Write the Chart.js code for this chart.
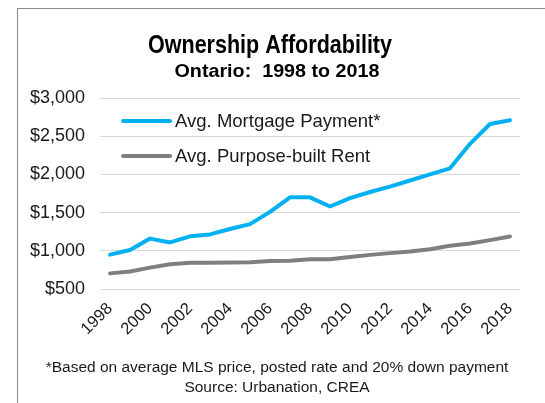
<!DOCTYPE html>
<html>
<head>
<meta charset="utf-8">
<script src="https://cdn.jsdelivr.net/npm/chart.js@4.4.1/dist/chart.umd.min.js"></script>
<style>
    html, body { margin: 0; padding: 0; background: #fff; }
    #wrap { position: relative; width: 545px; height: 403px; overflow: hidden; }
    #frame {
        position: absolute; left: 17px; top: 8px; width: 600px; height: 500px;
        border-left: 1px solid #8c8c8c; border-top: 1px solid #8c8c8c;
    }
    #chartBox { position: absolute; left: 0; top: 0; width: 545px; height: 403px; }
</style>
</head>
<body>
<div id="wrap">
    <div id="frame"></div>
    <div id="chartBox"><canvas id="affordChart"></canvas></div>
</div>
<script>
// ============================================================
// Ownership Affordability - Ontario 1998 to 2018
// ============================================================

const years = ['1998', '1999', '2000', '2001', '2002', '2003', '2004', '2005', '2006', '2007',
               '2008', '2009', '2010', '2011', '2012', '2013', '2014', '2015', '2016', '2017', '2018'];

const mortgagePayment = [950, 1010, 1160, 1110, 1190, 1215, 1285, 1350, 1510, 1700,
                         1700, 1580, 1690, 1770, 1840, 1920, 2000, 2080, 2400, 2660, 2710];

const purposeBuiltRent = [705, 730, 780, 825, 845, 845, 848, 850, 868, 870,
                          890, 890, 920, 947, 970, 990, 1022, 1066, 1096, 1140, 1188];

const seriesNames = ['Avg. Mortgage Payment*', 'Avg. Purpose-built Rent'];
const titleLines = ['Ownership Affordability', 'Ontario:  1998 to 2018'];
const footnotes = ['*Based on average MLS price, posted rate and 20% down payment',
                   'Source: Urbanation, CREA'];

const ARIAL = "'Liberation Sans', Arial, sans-serif";

// narrow bold title (no condensed font installed, so squeeze Liberation Sans a bit)
function drawNarrowText(ctx, text, cx, baseline, size, width) {
    ctx.save();
    ctx.font = 'bold ' + size + 'px ' + ARIAL;
    const natural = ctx.measureText(text).width;
    const sx = width / natural;
    ctx.translate(cx, baseline);
    ctx.scale(sx, 1);
    ctx.textAlign = 'center';
    ctx.textBaseline = 'alphabetic';
    ctx.fillStyle = '#000';
    ctx.fillText(text, 0, 0);
    ctx.restore();
}

const titlePlugin = {
    id: 'titlePlugin',
    afterDraw(chart) {
        const { ctx } = chart;
        drawNarrowText(ctx, titleLines[0], 270, 53, 25, 244);
        drawNarrowText(ctx, titleLines[1], 277, 77, 19, 205);
    }
};

// legend drawn inside the plot, top-left
const innerLegend = {
    id: 'innerLegend',
    afterDraw(chart) {
        const { ctx, chartArea } = chart;
        ctx.save();
        chart.data.datasets.forEach((ds, i) => {
            const y = chartArea.top + 23 + i * 35;
            const x0 = chartArea.left + 23;
            ctx.strokeStyle = ds.borderColor;
            ctx.lineWidth = 4;
            ctx.lineCap = 'round';
            ctx.beginPath();
            ctx.moveTo(x0, y);
            ctx.lineTo(x0 + 47, y);
            ctx.stroke();
            ctx.fillStyle = '#1a1a1a';
            ctx.font = '18.5px ' + ARIAL;
            ctx.textBaseline = 'middle';
            ctx.fillText(ds.label, x0 + 52, y + 1);
        });
        ctx.restore();
    }
};

// source notes under the chart
const footnotePlugin = {
    id: 'footnotePlugin',
    afterDraw(chart) {
        const { ctx } = chart;
        ctx.save();
        ctx.fillStyle = '#1a1a1a';
        ctx.font = '15.5px ' + ARIAL;
        ctx.textAlign = 'center';
        ctx.textBaseline = 'middle';
        ctx.fillText(footnotes[0], 277, 368);
        ctx.fillText(footnotes[1], 277, 388);
        ctx.restore();
    }
};

const affordChart = new Chart(document.getElementById('affordChart'), {
    type: 'line',
    data: {
        labels: years,
        datasets: [
            {
                label: seriesNames[0],
                data: mortgagePayment,
                borderColor: '#00b0f0',
                backgroundColor: '#00b0f0',
                borderWidth: 4,
                pointRadius: 0,
                borderCapStyle: 'round',
                borderJoinStyle: 'round'
            },
            {
                label: seriesNames[1],
                data: purposeBuiltRent,
                borderColor: '#7f7f7f',
                backgroundColor: '#7f7f7f',
                borderWidth: 4,
                pointRadius: 0,
                borderCapStyle: 'round',
                borderJoinStyle: 'round'
            }
        ]
    },
    options: {
        responsive: true,
        maintainAspectRatio: false,
        animation: false,
        layout: { padding: { left: 15, right: 25, top: 98, bottom: 62 } },
        scales: {
            x: {
                offset: true,
                grid: { display: false },
                border: { display: false },
                ticks: {
                    autoSkip: false,
                    minRotation: 45,
                    maxRotation: 45,
                    padding: 2,
                    color: '#1a1a1a',
                    font: { size: 16.5, family: ARIAL },
                    callback: function(value, index) {
                        return index % 2 === 0 ? this.getLabelForValue(value) : '';
                    }
                }
            },
            y: {
                min: 500,
                max: 3000,
                border: { display: false },
                grid: { color: '#d9d9d9', lineWidth: 1, drawTicks: false },
                ticks: {
                    stepSize: 500,
                    padding: 15,
                    color: '#1a1a1a',
                    font: { size: 18, family: ARIAL },
                    callback: (v) => '$' + v.toLocaleString('en-US')
                }
            }
        },
        plugins: {
            legend: { display: false },
            tooltip: { enabled: false },
            title: { display: false }
        }
    },
    plugins: [titlePlugin, innerLegend, footnotePlugin]
});
</script>
</body>
</html>
